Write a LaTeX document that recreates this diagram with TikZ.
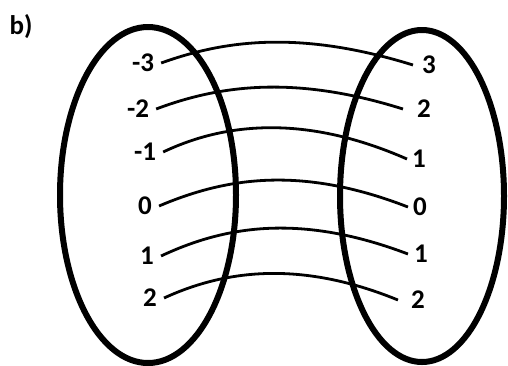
\documentclass[tikz,border=0pt]{standalone}
\usepackage{fontspec}
\setmainfont{Carlito}
\begin{document}
\begin{tikzpicture}[x=1pt,y=-1pt,
  lab/.style={font=\bfseries\fontsize{27}{32}\selectfont, inner sep=0pt},
  setring/.style={line width=6pt},
  mapline/.style={line width=2.8pt}]
\useasboundingbox (0,0) rectangle (508,365);
% ellipses
\draw[setring] (148,195) ellipse [x radius=88pt, y radius=168pt];
\draw[setring] (422,196) ellipse [x radius=82pt, y radius=166pt];
% title
\node[lab] (title) at (21,27) {b)};
% left labels
\node[lab] (lm3) at (143,63) {-3};
\node[lab] (lm2) at (138,109) {-2};
\node[lab] (lm1) at (145,152) {-1};
\node[lab] (l0) at (145,206) {0};
\node[lab] (l1) at (147,256) {1};
\node[lab] (l2) at (150,298) {2};
% right labels
\node[lab] (r3) at (429,65) {3};
\node[lab] (r2) at (424,109) {2};
\node[lab] (r1) at (419,159) {1};
\node[lab] (r0) at (420,207) {0};
\node[lab] (r1b) at (421,254) {1};
\node[lab] (r2b) at (418,300) {2};
% connectors
\draw[mapline] ([xshift=7pt]lm3.east) .. controls (225,40) and (300,30) .. ([xshift=-9pt]r3.west);
\draw[mapline] ([xshift=7pt]lm2.east) .. controls (220,85) and (295,75) .. ([xshift=-14pt]r2.west);
\draw[mapline] ([xshift=7pt]lm1.east) .. controls (220,125) and (300,112) .. ([xshift=-5pt]r1.west);
\draw[mapline] ([xshift=7pt]l0.east) .. controls (225,178) and (300,165) .. ([xshift=-5pt]r0.west);
\draw[mapline] ([xshift=7pt]l1.east) .. controls (225,226) and (300,213) .. ([xshift=-6pt]r1b.west);
\draw[mapline] ([xshift=7pt]l2.east) .. controls (225,270) and (300,260) .. ([xshift=-13pt]r2b.west);
\end{tikzpicture}
\end{document}
